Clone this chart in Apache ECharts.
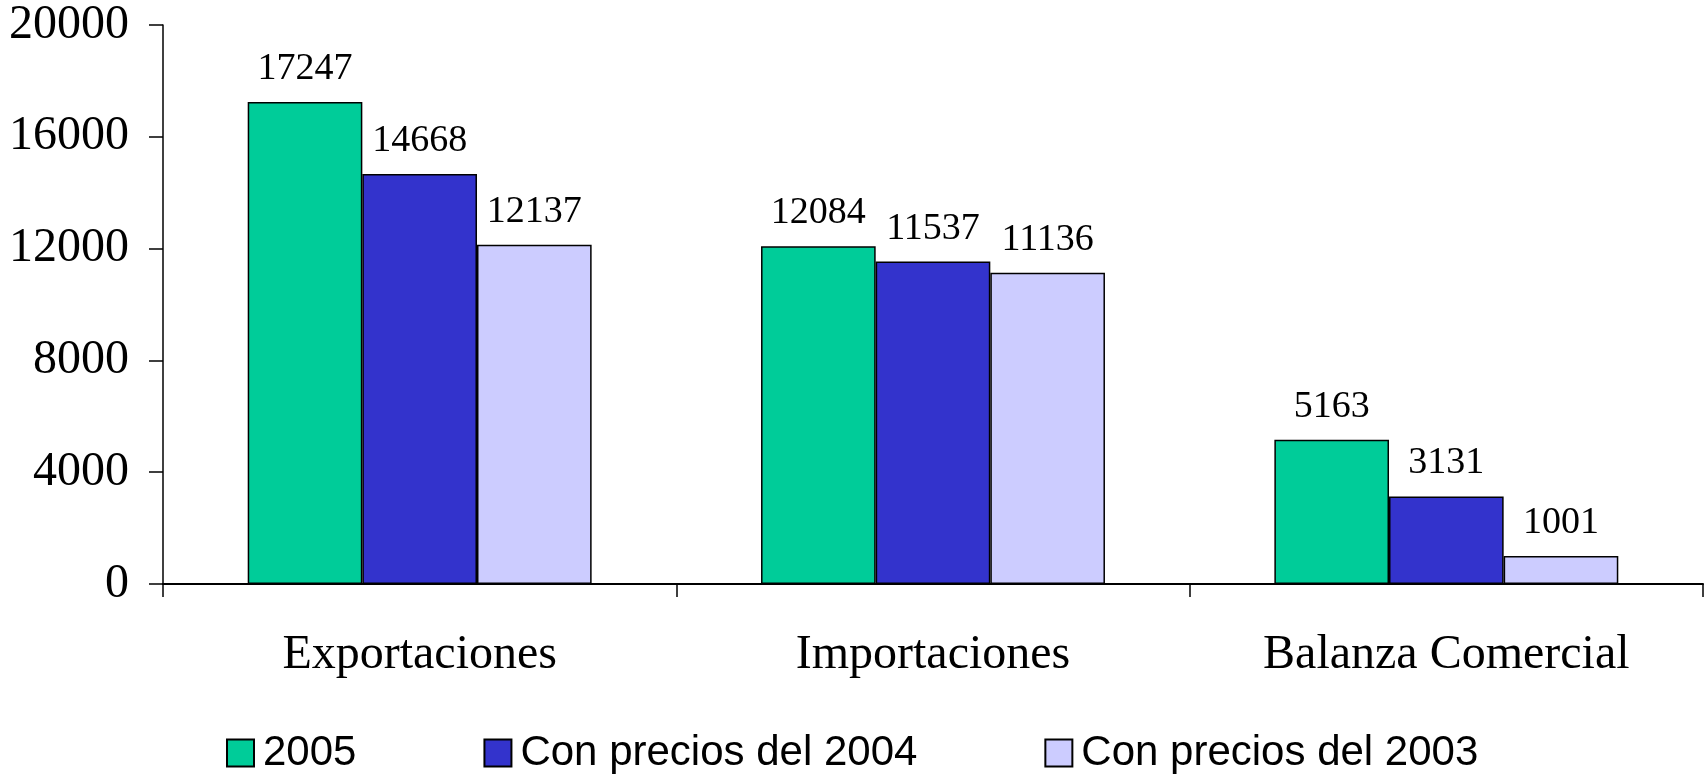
<!DOCTYPE html>
<html>
<head>
<meta charset="utf-8">
<script src="https://cdn.jsdelivr.net/npm/echarts@6/dist/echarts.min.js"></script>
<style>
  html, body { margin: 0; padding: 0; background: #fff; }
  #chart { width: 1708px; height: 774px; }
</style>
</head>
<body>
<div id="chart"></div>
<script>
const categories = ['Exportaciones', 'Importaciones', 'Balanza Comercial']
const seriesNames = ['2005', 'Con precios del 2004', 'Con precios del 2003']
const values2005 = [17247, 12084, 5163]
const values2004 = [14668, 11537, 3131]
const values2003 = [12137, 11136, 1001]
const colors = ['#00CC99', '#3333CC', '#CCCCFF']

const chart = echarts.init(document.getElementById('chart'))

const serif = '"Liberation Serif", "Times New Roman", serif'

const makeSeries = (name, data, color) => ({
  name,
  type: 'bar',
  data,
  barGap: '0%',
  barCategoryGap: '33%',
  itemStyle: { color, borderColor: '#000', borderWidth: 1.5 },
  label: {
    show: true,
    position: 'top',
    distance: 14,
    color: '#000',
    fontFamily: serif,
    fontSize: 38,
  },
})

chart.setOption({
  animation: false,
  backgroundColor: '#fff',
  grid: { left: 163, right: 5, top: 25, bottom: 190, outerBoundsMode: 'none' },
  legend: {
    data: seriesNames,
    left: 221,
    top: 727,
    icon: 'rect',
    itemWidth: 27,
    itemHeight: 27,
    itemGap: 127,
    textStyle: {
      fontFamily: '"Liberation Sans", Arial, sans-serif',
      fontSize: 42,
      color: '#000',
      padding: [0, 0, 0, 4],
    },
  },
  xAxis: {
    type: 'category',
    data: categories,
    axisLine: { lineStyle: { color: '#000', width: 2 } },
    axisTick: { show: true, length: 13, lineStyle: { color: '#000', width: 1.5 } },
    axisLabel: {
      color: '#000',
      fontFamily: serif,
      fontSize: 48,
      margin: 47,
    },
  },
  yAxis: {
    type: 'value',
    min: 0,
    max: 20000,
    interval: 4000,
    splitLine: { show: false },
    axisLine: { show: true, lineStyle: { color: '#000', width: 1.5 } },
    axisTick: { show: true, length: 14, lineStyle: { color: '#000', width: 1.5 } },
    axisLabel: {
      color: '#000',
      fontFamily: serif,
      fontSize: 48,
      margin: 34,
      formatter: (v) => String(v),
    },
  },
  series: [
    makeSeries(seriesNames[0], values2005, colors[0]),
    makeSeries(seriesNames[1], values2004, colors[1]),
    makeSeries(seriesNames[2], values2003, colors[2]),
  ],
})
</script>
</body>
</html>
